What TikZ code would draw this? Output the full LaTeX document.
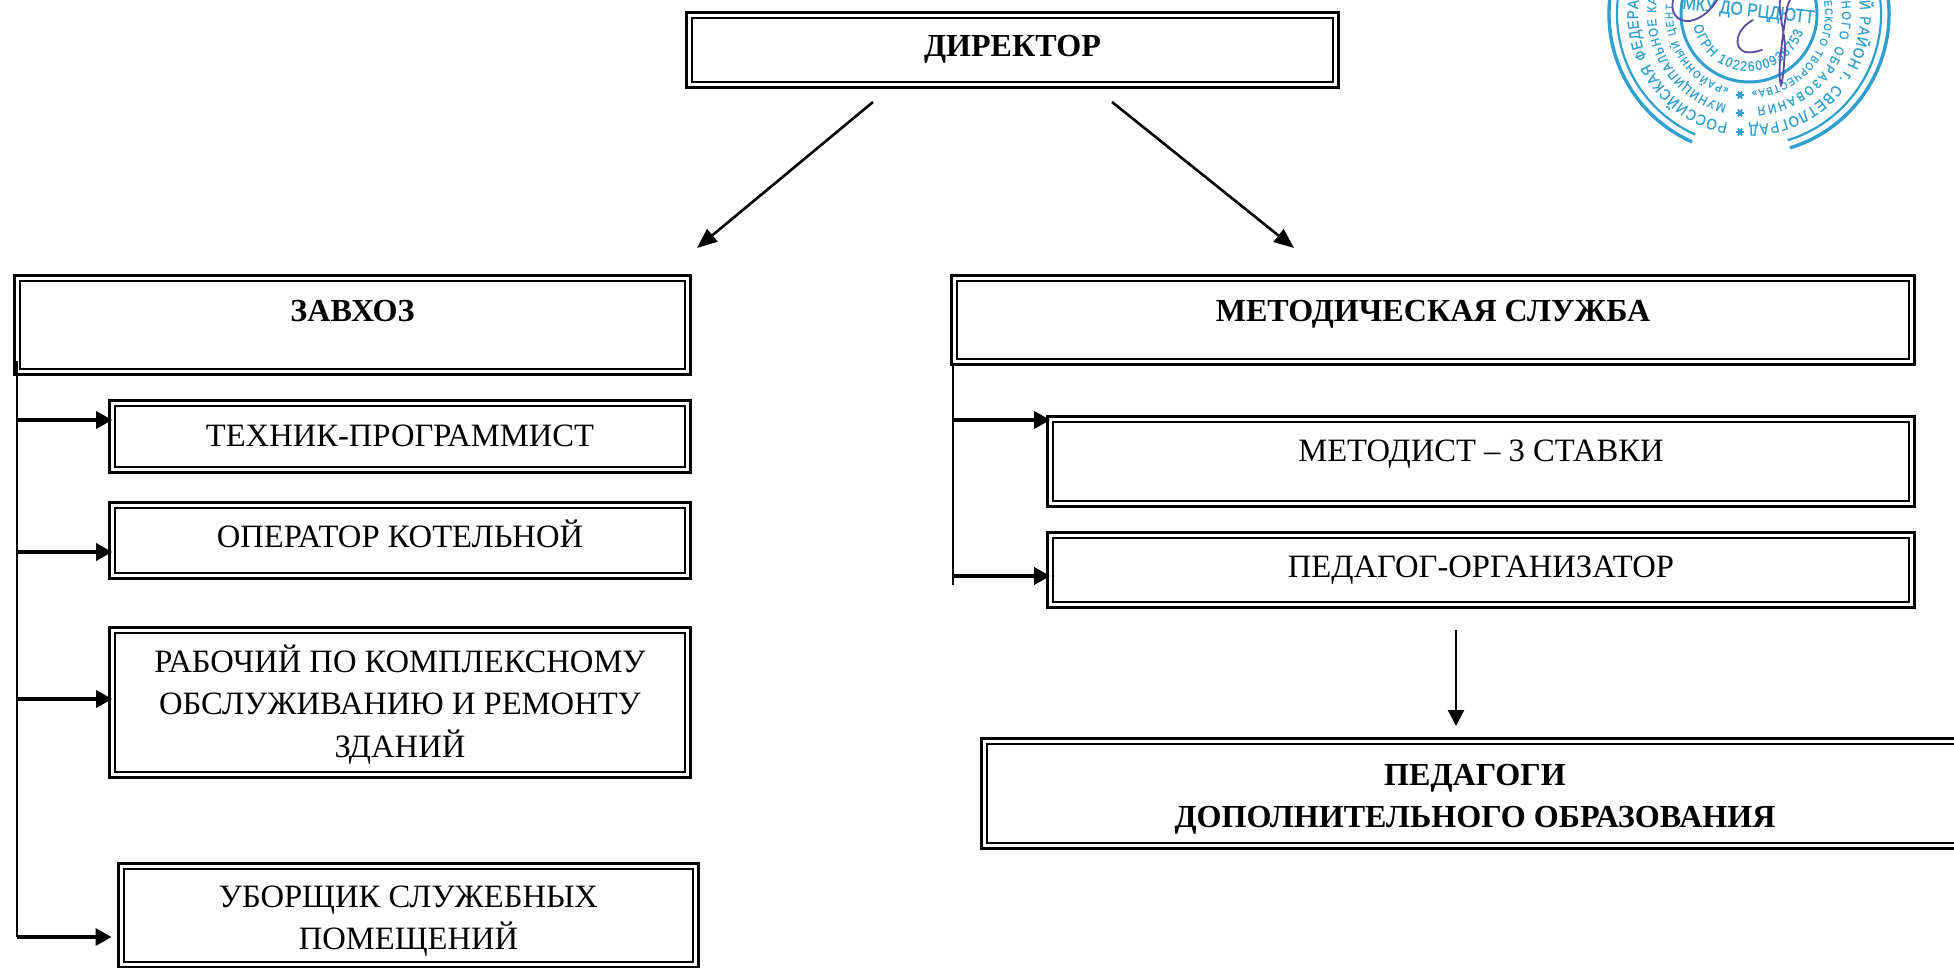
\documentclass[tikz,border=0pt]{standalone}
\usepackage{fontspec}
\setmainfont{Liberation Serif}
\newfontfamily\stampf[FakeStretch=0.86,FakeBold=0.7]{Liberation Sans}
\usetikzlibrary{arrows.meta,decorations.text}
\definecolor{stampc}{HTML}{2E9FCF}
\definecolor{signc}{HTML}{5A4BA5}
\tikzset{
  x=1pt,y=1pt,
  dbox/.style={draw=black,line width=2.7pt,double=white,double distance=3pt,inner sep=0pt,outer sep=0pt,fill=none,font=\fontsize{32.6}{42.5}\selectfont},
  hd/.style={font=\bfseries\fontsize{32.1}{42.5}\selectfont},
  thinline/.style={draw=black,line width=2pt},
  branch/.style={draw=black,line width=3.2pt,-{Triangle[length=16pt,width=17pt]}},
  dirarrow/.style={draw=black,line width=2.6pt,-{Triangle[length=20pt,width=16pt]}},
  downarrow/.style={draw=black,line width=2.2pt,-{Triangle[length=16pt,width=16pt]}},
  ring/.style={draw=stampc,fill=none},
  sgn/.style={draw=signc,line width=1.8pt,line cap=round},
}
\newcommand{\Bx}[8][]{%
  \pgfmathsetmacro{\bxw}{#4-#2-8.4}%
  \pgfmathsetmacro{\bxh}{#5-#3-8.4}%
  \pgfmathsetmacro{\bxc}{(#2+#4)/2}%
  \pgfmathsetmacro{\bxm}{(#3+#5)/2}%
  \pgfmathsetmacro{\bxr}{\bxm-#6}%
  \node[dbox,#1,minimum width=\bxw pt,minimum height=\bxh pt] (#8) at (\bxc,-\bxm)
    {\raisebox{\bxr pt}[0pt][0pt]{\begin{tabular}[t]{@{}c@{}}#7\end{tabular}}};%
}
\newcommand{\stA}{\stampf\fontsize{15.5}{16}\selectfont}
\newcommand{\stB}{\stampf\fontsize{13}{14}\selectfont}
\newcommand{\stC}{\stampf\fontsize{11}{12}\selectfont}
\newcommand{\stD}{\stampf\fontsize{14}{14}\selectfont}
\newcommand{\ArcText}[5]{%
  \path[decorate,decoration={text along path,text align={fit to path},text color=stampc,text={|#5|#4}}]
    (#1:#3pt) arc[start angle=#1,end angle=#2,radius=#3pt];%
}
\begin{document}
\begin{tikzpicture}
\useasboundingbox (0,0) rectangle (1954,-968);
% boxes
\Bx[hd]{685}{11}{1340}{89}{57}{ДИРЕКТОР}{director}
\Bx[hd]{13}{274}{692}{376}{322}{ЗАВХОЗ}{zavhoz}
\Bx{108}{399}{692}{474}{446}{ТЕХНИК-ПРОГРАММИСТ}{tehnik}
\Bx{108}{501}{692}{580}{547}{ОПЕРАТОР КОТЕЛЬНОЙ}{operator}
\Bx{108}{626}{692}{779}{672}{РАБОЧИЙ ПО КОМПЛЕКСНОМУ\\ОБСЛУЖИВАНИЮ И РЕМОНТУ\\ЗДАНИЙ}{rabochiy}
\Bx{117}{862}{700}{969}{907}{УБОРЩИК СЛУЖЕБНЫХ\\ПОМЕЩЕНИЙ}{uborshik}
\Bx[hd]{950}{274}{1916}{366}{321}{МЕТОДИЧЕСКАЯ СЛУЖБА}{metod}
\Bx{1046}{415}{1916}{508}{461}{МЕТОДИСТ – 3 СТАВКИ}{metodist}
\Bx{1046}{531}{1916}{609}{577}{ПЕДАГОГ-ОРГАНИЗАТОР}{pedorg}
\Bx[hd]{980}{737}{1970}{850}{785}{ПЕДАГОГИ\\ДОПОЛНИТЕЛЬНОГО ОБРАЗОВАНИЯ}{pedagogi}
% free ends
\coordinate (dl0) at (873,-102);
\coordinate (dl1) at (697,-248);
\coordinate (dr0) at (1112,-102);
\coordinate (dr1) at (1294,-248);
\coordinate (zt0) at (16.5,-361);
\coordinate (zt1) at (16.5,-937);
\coordinate (zb1) at (16.5,-420);
\coordinate (zb2) at (16.5,-552);
\coordinate (zb3) at (16.5,-699);
\coordinate (zb4tip) at (111.6,-937);
\coordinate (mt0) at (953,-366);
\coordinate (mt1) at (953,-585);
\coordinate (mb1) at (953,-420);
\coordinate (mb2) at (953,-576);
\coordinate (pa0) at (1456,-630);
\coordinate (pa1) at (1456,-726);
% connectors
\draw[dirarrow] (dl0) -- (dl1);
\draw[dirarrow] (dr0) -- (dr1);
\draw[thinline] (zt0) -- (zt1);
\draw[branch] (zb1) -- (zb1 -| tehnik.west);
\draw[branch] (zb2) -- (zb2 -| operator.west);
\draw[branch] (zb3) -- (zb3 -| rabochiy.west);
\draw[branch] (zt1) -- (zb4tip);
\draw[thinline] (mt0) -- (mt1);
\draw[branch] (mb1) -- (mb1 -| metodist.west);
\draw[branch] (mb2) -- (mb2 -| pedorg.west);
\draw[downarrow] (pa0) -- (pa1);
% stamp
\begin{scope}
\clip (1500,0) rectangle (1954,-200);
\begin{scope}[shift={(1749,-14)}]
  \draw[ring,line width=3.4pt] (-73:140pt) arc[start angle=-73,end angle=246,radius=140pt];
  \draw[ring,line width=2.2pt] (-73:132pt) arc[start angle=-73,end angle=246,radius=132pt];
  \draw[ring,line width=3pt] (0,0) circle[radius=68pt];
  \ArcText{259}{173}{111}{РОССИЙСКАЯ ФЕДЕРА}{\stA}
  \ArcText{7}{-90}{111}{Й РАЙОН г. СВЕТЛОГРАД}{\stA}
  \ArcText{256}{170}{93}{МУНИЦИПАЛЬНОЕ КА}{\stB}
  \ArcText{8}{-85}{93}{НОГО ОБРАЗОВАНИЯ}{\stB}
  \ArcText{255}{173}{76}{«РАЙОННЫЙ ЦЕНТ}{\stC}
  \ArcText{10}{-88}{76}{ЕСКОГО ТВОРЧЕСТВА»}{\stC}
  \ArcText{192}{342}{57}{ОГРН 1022600936753}{\stD}
  \node[text=stampc,rotate=-6.5,anchor=base,inner sep=0pt] (stamptitle) at (-1,-2)
    {\stampf\fontsize{18.5}{18}\selectfont МКУ ДО РЦДЮТТ};
  \foreach \sy in {-81,-99,-118} {
    \foreach \sa in {0,60,120} {
      \draw[stampc,line width=2pt,shift={(-9,\sy)}] (\sa:4pt) -- (\sa+180:4pt);
    }
  }
\end{scope}
\draw[sgn] (1673,0) .. controls (1670,-14) and (1678,-22) .. (1690,-21) .. controls (1704,-18) and (1712,-8) .. (1717,0);
\draw[sgn] (1780,0) .. controls (1778,-15) and (1785,-30) .. (1785,-50) .. controls (1784,-65) and (1783,-80) .. (1781,-85) .. controls (1777,-75) and (1782,-40) .. (1787,-8) .. controls (1788,-4) and (1789,-2) .. (1790,0);
\draw[sgn] (1753,-20) .. controls (1735,-30) and (1733,-48) .. (1745,-52) .. controls (1750,-53) and (1755,-52) .. (1762,-50);
\end{scope}
\end{tikzpicture}
\end{document}
